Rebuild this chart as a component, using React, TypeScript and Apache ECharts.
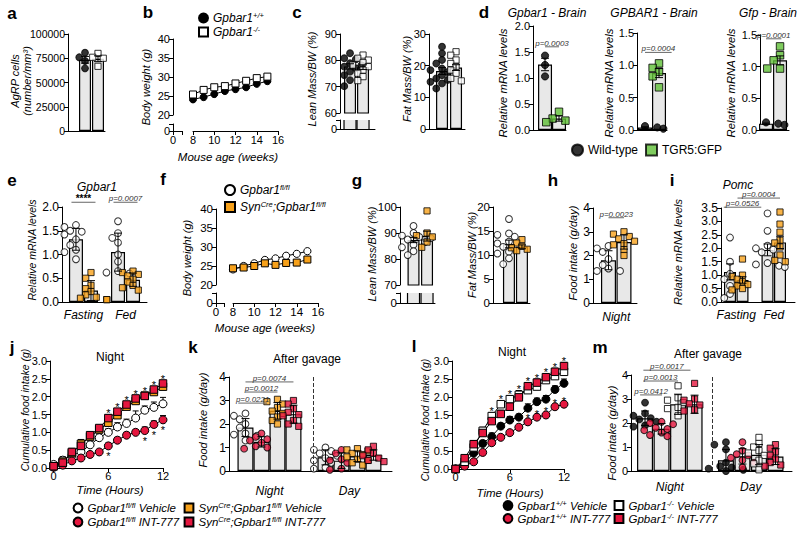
import React, { useEffect, useRef } from "react";
import * as echarts from "echarts";

const FONT = "'Liberation Sans', Arial, Helvetica, sans-serif";
const INK = "#000";
const BAR_FILL = "#e8e8e8";
const ORANGE = "#f7a11a";
const RED = "#e5173f";
const GREEN = "#5fbf36";

// ===== a: AgRP cells =====
const aMeans = [73400, 74500];
const aErrs = [3500, 3000];
const aWT = [80700, 76000, 72200, 64600];
const aKO = [80000, 76000, 75000, 66700];

// ===== b: body weight =====
const bWeeks = [8, 9, 10, 11, 12, 13, 14, 15];
const bWT = [24.1, 24.7, 25.5, 26.3, 26.8, 27.3, 28.2, 28.9];
const bKO = [25.4, 26.6, 27.3, 27.6, 28.3, 29.0, 29.7, 30.1];

// ===== c: body composition =====
const cLeanMeans = [77.7, 77.4];
const cLeanErrs = [1.0, 0.9];
const cLeanWT = [82.7, 82.0, 80.8, 80.4, 79.5, 78.9, 78.2, 77.6, 77.0, 75.7, 74.4, 72.5, 70.2];
const cLeanKO = [82.0, 80.8, 80.1, 79.1, 78.2, 77.6, 76.3, 75.1, 73.8, 72.3];
const cFatMeans = [18.3, 19.4];
const cFatErrs = [1.1, 0.9];
const cFatWT = [26.0, 23.9, 21.8, 20.7, 19.1, 18.6, 18.0, 17.0, 16.0, 15.5, 14.9, 14.4, 12.8];
const cFatKO = [24.4, 23.3, 21.8, 20.7, 19.7, 18.6, 17.6, 16.0, 15.2];

// ===== d: brain mRNA =====
const dGpbar1Means = [1.26, 0.22];
const dGpbar1Errs = [0.12, 0.05];
const dGpbar1WT = [1.43, 1.25, 1.03];
const dGpbar1GFP = [0.35, 0.22, 0.18, 0.15];
const dGPBAR1Means = [0.04, 0.88];
const dGPBAR1Errs = [0.01, 0.07];
const dGPBAR1WT = [0.02, 0.06, 0.05, 0.04];
const dGPBAR1GFP = [1.03, 0.96, 0.9, 0.83, 0.66];
const dGfpMeans = [0.1, 1.1];
const dGfpErrs = [0.01, 0.07];
const dGfpWT = [0.08, 0.1, 0.12, 0.12];
const dGfpGFP = [1.32, 1.18, 1.1, 0.97, 0.97];
const dPvals = ["p=0.0003", "p=0.0004", "p=0.0001"];

// ===== e: Gpbar1 mRNA =====
const eCats = ["Fasting", "Fed"];
const eMeans = [1.32, 0.24, 1.05, 0.47];
const eErrs = [0.23, 0.21, 0.4, 0.14];
const eFastWT = [1.62, 1.58, 1.5, 1.48, 1.42, 1.32, 1.2, 1.1, 1.05, 0.9];
const eFastKO = [0.62, 0.5, 0.35, 0.28, 0.22, 0.15, 0.1, 0.08, 0.05, 0.05];
const eFedWT = [1.7, 1.45, 1.35, 1.25, 1.0, 0.85, 0.65, 0.62, 0.6];
const eFedKO = [0.65, 0.62, 0.58, 0.55, 0.48, 0.42, 0.35, 0.3, 0.25];
const ePvals = ["****", "p=0.0007"];

// ===== f: body weight =====
const fWeeks = [8, 9, 10, 11, 12, 13, 14, 15];
const fWT = [24.1, 25.0, 25.7, 26.6, 27.0, 27.7, 28.2, 28.9];
const fCre = [24.4, 24.6, 25.0, 25.7, 25.3, 25.8, 25.9, 26.7];

// ===== g: body composition =====
const gLeanMeans = [87.3, 88.8];
const gLeanErrs = [1.0, 1.9];
const gLeanWT = [92.7, 90, 89, 88.5, 88, 87.5, 87, 86.5, 85.5, 84.5, 83, 81.5];
const gLeanCre = [98.5, 90, 89, 88.5, 88, 86.5, 84.5];
const gFatMeans = [12.3, 11.7];
const gFatErrs = [0.8, 0.4];
const gFatWT = [17.5, 14.5, 14.2, 13.8, 12.8, 12.4, 11.7, 10.7, 10.3, 9.3, 8.1];
const gFatCre = [13.2, 12.5, 11.8, 11.5, 11.2, 10.9];

// ===== h: night food intake =====
const hCats = ["Night"];
const hMeans = [1.8, 2.57];
const hErrs = [0.4, 0.3];
const hWT = [2.4, 2.3, 2.15, 1.85, 1.6, 1.45, 1.35, 1.35];
const hCre = [3.0, 2.9, 2.8, 2.7, 2.6, 2.5, 2.45, 2.25, 2.0];
const hPvals = ["p=0.0023"];

// ===== i: Pomc =====
const iCats = ["Fasting", "Fed"];
const iMeans = [1.12, 0.82, 1.94, 2.22];
const iErrs = [0.3, 0.12, 0.22, 0.23];
const iFastWT = [2.4, 2.3, 1.5, 1.05, 0.85, 0.6, 0.3, 0.15];
const iFastKO = [1.6, 1.0, 0.95, 0.85, 0.75, 0.65, 0.6, 0.5, 0.45];
const iFedWT = [3.3, 2.65, 2.1, 2.0, 1.95, 1.85, 1.45, 1.4, 1.35, 1.3];
const iFedKO = [3.35, 2.9, 2.6, 2.3, 2.2, 2.05, 1.75, 1.55, 1.5];
const iPvals = ["p=0.0526", "p=0.0004"];

// ===== j: cumulative intake (fl/fl vs SynCre) =====
const jHours = [0, 1, 2, 3, 4, 5, 6, 7, 8, 9, 10, 11, 12];
const jWTVeh = [0.1, 0.22, 0.35, 0.45, 0.65, 0.85, 1.0, 1.15, 1.25, 1.4, 1.62, 1.7, 1.8];
const jWTVehErr = [0.05, 0.1, 0.08, 0.1, 0.08, 0.1, 0.1, 0.12, 0.12, 0.2, 0.12, 0.15, 0.18];
const jWTInt = [0.02, 0.08, 0.2, 0.28, 0.38, 0.45, 0.62, 0.78, 0.92, 1.0, 1.05, 1.22, 1.35];
const jWTIntErr = [0.02, 0.05, 0.05, 0.06, 0.06, 0.06, 0.08, 0.08, 0.08, 0.08, 0.1, 0.1, 0.12];
const jCreVeh = [0.05, 0.18, 0.42, 0.68, 0.88, 1.08, 1.27, 1.48, 1.72, 1.88, 2.03, 2.13, 2.28];
const jCreVehErr = [0.03, 0.1, 0.1, 0.12, 0.1, 0.1, 0.1, 0.1, 0.1, 0.08, 0.08, 0.08, 0.1];
const jCreInt = [0.05, 0.15, 0.45, 0.62, 0.92, 1.12, 1.4, 1.58, 1.78, 1.95, 2.02, 2.2, 2.37];
const jCreIntErr = [0.03, 0.08, 0.1, 0.1, 0.08, 0.08, 0.1, 0.08, 0.08, 0.08, 0.08, 0.08, 0.08];
const jStarsTop = [6, 7, 8, 9, 10, 11, 12];
const jStarsLow = [6, 10, 11, 12];

// ===== k: after gavage =====
const kCats = ["Night", "Day"];
const kMeans = [1.85, 1.24, 2.56, 2.42, 0.58, 0.44, 0.63, 0.68];
const kErrs = [0.38, 0.22, 0.35, 0.38, 0.32, 0.33, 0.23, 0.22];
const kNightWTVeh = [2.45, 2.35, 2.2, 2.0, 1.85, 1.6, 1.55, 1.5, 1.3];
const kNightWTInt = [1.6, 1.45, 1.35, 1.3, 1.2, 1.05, 1.0, 0.95];
const kNightCreVeh = [3.05, 2.95, 2.85, 2.7, 2.55, 2.45, 2.3, 2.15, 2.0];
const kNightCreInt = [3.0, 2.85, 2.65, 2.5, 2.4, 2.35, 2.15, 2.0, 1.9];
const kDayWTVeh = [1.0, 0.9, 0.85, 0.75, 0.65, 0.55, 0.45, 0.35, 0.15, 0.1];
const kDayWTInt = [0.9, 0.75, 0.5, 0.45, 0.35, 0.1, 0.05];
const kDayCreVeh = [0.95, 0.9, 0.85, 0.75, 0.7, 0.6, 0.5, 0.45, 0.35, 0.25];
const kDayCreInt = [1.05, 0.9, 0.75, 0.65, 0.55, 0.45, 0.4];
const kPvals = ["p=0.0221", "p=0.0012", "p=0.0074"];

// ===== l: cumulative intake (+/+ vs -/-) =====
const lHours = [0, 1, 2, 3, 4, 5, 6, 7, 8, 9, 10, 11, 12];
const lWTVeh = [0, 0.16, 0.44, 0.71, 0.9, 1.19, 1.36, 1.44, 1.69, 1.87, 1.94, 2.21, 2.38];
const lWTVehErr = [0.02, 0.05, 0.08, 0.08, 0.1, 0.08, 0.1, 0.08, 0.12, 0.1, 0.1, 0.1, 0.12];
const lWTInt = [0, 0.08, 0.2, 0.46, 0.73, 0.88, 1.01, 1.16, 1.31, 1.44, 1.5, 1.73, 1.8];
const lWTIntErr = [0.02, 0.04, 0.05, 0.05, 0.05, 0.05, 0.05, 0.05, 0.06, 0.06, 0.06, 0.06, 0.06];
const lKOVeh = [0, 0.2, 0.6, 1.06, 1.47, 1.8, 1.94, 2.06, 2.19, 2.29, 2.47, 2.58, 2.7];
const lKOVehErr = [0.02, 0.06, 0.08, 0.1, 0.1, 0.1, 0.1, 0.12, 0.12, 0.12, 0.1, 0.12, 0.12];
const lKOInt = [0, 0.3, 0.69, 1.0, 1.33, 1.53, 1.73, 1.99, 2.3, 2.4, 2.55, 2.7, 2.86];
const lKOIntErr = [0.02, 0.06, 0.1, 0.1, 0.1, 0.1, 0.12, 0.12, 0.1, 0.1, 0.1, 0.1, 0.1];
const lStarsTop = [4, 5, 6, 7, 8, 9, 10, 11, 12];
const lStarsLow = [8, 9, 10, 11, 12];

// ===== m: after gavage =====
const mCats = ["Night", "Day"];
const mMeans = [2.2, 1.76, 2.78, 2.78, 0.45, 0.61, 0.68, 0.6];
const mErrs = [0.3, 0.22, 0.42, 0.38, 0.45, 0.32, 0.42, 0.33];
const mNightWTVeh = [2.85, 2.4, 2.3, 2.2, 2.15, 2.1, 2.05, 1.9, 1.85];
const mNightWTInt = [2.05, 2.0, 1.95, 1.8, 1.75, 1.7, 1.6, 1.5, 1.45];
const mNightKOVeh = [3.55, 3.05, 2.95, 2.85, 2.65, 2.6, 2.3];
const mNightKOInt = [3.65, 3.0, 2.95, 2.8, 2.75, 2.55, 2.5];
const mDayWTVeh = [1.2, 1.1, 0.9, 0.35, 0.2, 0.15, 0.1, 0.05, 0.0];
const mDayWTInt = [1.2, 0.85, 0.7, 0.65, 0.55, 0.45, 0.35, 0.15];
const mDayKOVeh = [1.4, 1.15, 1.0, 0.85, 0.75, 0.65, 0.45, 0.3, 0.05];
const mDayKOInt = [1.1, 0.95, 0.8, 0.65, 0.5, 0.35, 0.25, 0.2];
const mPvals = ["p=0.0412", "p=0.0013", "p=0.0017"];

// legend labels (rich text with superscripts)
const LEG: Record<string, string> = {
  "b wt": "Gpbar1{s|+/+}",
  "b ko": "Gpbar1{s|-/-}",
  "f fl": "Gpbar1{s|fl/fl}",
  "f cre": "Syn{s|Cre};Gpbar1{s|fl/fl}",
  "j wt veh": "Gpbar1{s|fl/fl} Vehicle",
  "j wt int": "Gpbar1{s|fl/fl} INT-777",
  "j cre veh": "Syn{s|Cre};Gpbar1{s|fl/fl} Vehicle",
  "j cre int": "Syn{s|Cre};Gpbar1{s|fl/fl} INT-777",
  "l wt veh": "Gpbar1{s|+/+} Vehicle",
  "l wt int": "Gpbar1{s|+/+} INT-777",
  "l ko veh": "Gpbar1{s|-/-} Vehicle",
  "l ko int": "Gpbar1{s|-/-} INT-777",
};

// ---------------- helpers ----------------
const LINE = { color: INK, width: 1 };
type Sym = { symbol: string; fill: string; size: number };
const SYM: Record<string, Sym> = {
  blackDot: { symbol: "circle", fill: "#000", size: 6.8 },
  whiteDot: { symbol: "circle", fill: "#fff", size: 6.8 },
  whiteSq: { symbol: "rect", fill: "#fff", size: 6.2 },
  greenSq: { symbol: "rect", fill: GREEN, size: 7.5 },
  orangeSq: { symbol: "rect", fill: ORANGE, size: 6.2 },
  redDot: { symbol: "circle", fill: RED, size: 6.8 },
  redSq: { symbol: "rect", fill: RED, size: 6.2 },
};
const big = (s: Sym, size: number): Sym => ({ ...s, size });

function nearest(arr: number[], v: number) {
  let bi = 0;
  arr.forEach((a, i) => {
    if (Math.abs(a - v) < Math.abs(arr[bi] - v)) bi = i;
  });
  return bi;
}

// horizontal spreading of dots so they don't overlap (layout only)
function swarm(vals: number[], pxPerY: number, pxPerX: number, size: number): number[] {
  const idx = vals.map((_, i) => i).sort((a, b) => vals[b] - vals[a]);
  const placed: [number, number][] = [];
  const out: number[] = new Array(vals.length).fill(0);
  const step = size * 0.85;
  const minD = size * 0.95;
  const cands = [0, -1, 1, -2, 2, -3, 3];
  for (const i of idx) {
    const y = vals[i] * pxPerY;
    let cx = cands[cands.length - 1] * step;
    for (const k of cands) {
      const c = k * step;
      if (placed.every(([px, py]) => Math.hypot(px - c, py - y) >= minD)) {
        cx = c;
        break;
      }
    }
    placed.push([cx, y]);
    out[i] = cx / pxPerX;
  }
  return out;
}

function yAx(min: number, max: number, interval: number, fs: number, fmt?: (v: number) => string, offset = 0) {
  return {
    type: "value",
    min,
    max,
    interval,
    offset,
    axisLine: { show: true, onZero: false, lineStyle: LINE },
    axisTick: { show: true, length: 4, lineStyle: LINE },
    splitLine: { show: false },
    axisLabel: { color: INK, fontFamily: FONT, fontSize: fs, margin: 3, formatter: fmt || ((v: number) => String(v)) },
  };
}
function stubAx(fs: number) {
  return {
    type: "value",
    min: 0,
    max: 1,
    axisLine: { show: true, onZero: false, lineStyle: LINE },
    axisTick: { show: true, length: 4, lineStyle: LINE, customValues: [0, 1] },
    splitLine: { show: false },
    axisLabel: { color: INK, fontFamily: FONT, fontSize: fs, margin: 3, customValues: [0], formatter: () => "0" },
  };
}
function barX(min: number, max: number, cats: any, show: boolean) {
  return {
    type: "value",
    min,
    max,
    show,
    axisLine: { show: true, onZero: false, lineStyle: LINE },
    axisTick: { show: false },
    splitLine: { show: false },
    axisLabel: cats
      ? {
          show: true,
          customValues: cats.at,
          formatter: (v: number) => cats.names[nearest(cats.at, v)],
          color: INK,
          fontFamily: FONT,
          fontSize: cats.fs,
          fontStyle: "italic",
          margin: cats.margin,
        }
      : { show: false },
  };
}

function buildOption() {
  const grids: any[] = [];
  const xAxes: any[] = [];
  const yAxes: any[] = [];
  const series: any[] = [];
  const G: any[] = [];

  const addGrid = (l: number, t: number, w: number, h: number, xa: any, ya: any) => {
    const gi = grids.length;
    grids.push({ left: l, top: t, width: w, height: h, containLabel: false });
    xAxes.push({ ...xa, gridIndex: gi });
    yAxes.push({ ...ya, gridIndex: gi });
    return gi;
  };

  const errSeries = (gi: number, data: number[][], dir: string, cap: number, floor: number, z = 5) => ({
    type: "custom",
    xAxisIndex: gi,
    yAxisIndex: gi,
    silent: true,
    z,
    data,
    encode: { x: 0, y: 1 },
    renderItem: (_p: any, api: any) => {
      const x = api.value(0);
      const m = api.value(1);
      const e = api.value(2);
      const top = api.coord([x, m + e]);
      const bot = api.coord([x, dir === "both" ? Math.max(m - e, floor) : m]);
      const st = { stroke: INK, lineWidth: 1 };
      const ch: any[] = [
        { type: "line", shape: { x1: top[0], y1: top[1], x2: bot[0], y2: bot[1] }, style: st },
        { type: "line", shape: { x1: top[0] - cap, y1: top[1], x2: top[0] + cap, y2: top[1] }, style: st },
      ];
      if (dir === "both")
        ch.push({ type: "line", shape: { x1: bot[0] - cap, y1: bot[1], x2: bot[0] + cap, y2: bot[1] }, style: st });
      return { type: "group", children: ch };
    },
  });

  const sigSeries = (gi: number, sigs: any[]) => ({
    type: "custom",
    xAxisIndex: gi,
    yAxisIndex: gi,
    silent: true,
    z: 6,
    data: sigs.map((s) => [s.x1, s.y, s.x2]),
    encode: { x: 0, y: 1 },
    renderItem: (p: any, api: any) => {
      const s = sigs[p.dataIndex];
      const a = api.coord([s.x1, s.y]);
      const b = api.coord([s.x2, s.y]);
      return {
        type: "group",
        children: [
          { type: "line", shape: { x1: a[0], y1: a[1], x2: b[0], y2: b[1] }, style: { stroke: "#666", lineWidth: 1 } },
          {
            type: "text",
            x: (a[0] + b[0]) / 2,
            y: a[1] + (s.bold ? 1 : 0.5),
            style: {
              text: s.text,
              fill: s.bold ? INK : "#333",
              fontSize: s.bold ? 10 : 8,
              fontWeight: s.bold ? "bold" : "normal",
              fontStyle: s.bold ? "normal" : "italic",
              fontFamily: FONT,
              align: "center",
              verticalAlign: "bottom",
              textAlign: "center",
              textVerticalAlign: "bottom",
            },
          },
        ],
      };
    },
  });

  const starSeries = (gi: number, pts: number[][], above: boolean) => ({
    type: "custom",
    xAxisIndex: gi,
    yAxisIndex: gi,
    silent: true,
    z: 6,
    data: pts,
    encode: { x: 0, y: 1 },
    renderItem: (_p: any, api: any) => {
      const c = api.coord([api.value(0), api.value(1)]);
      return {
        type: "text",
        x: c[0],
        y: above ? c[1] + 4 : c[1] + 5,
        style: {
          text: "*",
          fill: INK,
          fontSize: 11,
          fontFamily: FONT,
          align: "center",
          verticalAlign: above ? "bottom" : "top",
          textAlign: "center",
          textVerticalAlign: above ? "bottom" : "top",
        },
      };
    },
  });

  const barStyle = { color: BAR_FILL, borderColor: INK, borderWidth: 1.2 };

  const addBarPanel = (o: any) => {
    const [L, T, W, H] = o.grid;
    const gi = addGrid(L, T, W, H, barX(o.x[0], o.x[1], o.cats, !o.stub), yAx(o.y[0], o.y[1], o.y[2], o.fs, o.yFmt));
    const bar: any = {
      type: "bar",
      xAxisIndex: gi,
      yAxisIndex: gi,
      data: o.groups.map((g: any) => [g.x, g.mean]),
      barWidth: o.barW,
      clip: true,
      silent: true,
      z: 2,
      itemStyle: barStyle,
    };
    if (o.dash != null) {
      bar.markLine = {
        silent: true,
        symbol: ["none", "none"],
        label: { show: false },
        lineStyle: { type: "dashed", color: "#333", width: 1 },
        data: [{ xAxis: o.dash }],
      };
    }
    series.push(bar);
    const pxX = W / (o.x[1] - o.x[0]);
    const pxY = H / (o.y[1] - o.y[0]);
    o.groups.forEach((g: any) => {
      const jit = swarm(g.pts, pxY, pxX, g.sym.size);
      series.push({
        type: "scatter",
        name: g.name,
        xAxisIndex: gi,
        yAxisIndex: gi,
        silent: true,
        z: 4,
        data: g.pts.map((v: number, i: number) => [g.x + jit[i], v]),
        symbol: g.sym.symbol,
        symbolSize: g.sym.size,
        itemStyle: { color: g.sym.fill, borderColor: INK, borderWidth: 1 },
      });
    });
    series.push(errSeries(gi, o.groups.map((g: any) => [g.x, g.mean, g.err]), "both", o.cap ?? 4, o.y[0]));
    if (o.sig) series.push(sigSeries(gi, o.sig));
    if (o.stub) {
      const [sT, sH] = o.stub;
      const si = addGrid(L, sT, W, sH, barX(o.x[0], o.x[1], null, true), stubAx(o.fs));
      const hw = o.barW / 2;
      // open-topped bar stubs below the axis break
      series.push({
        type: "custom",
        xAxisIndex: si,
        yAxisIndex: si,
        silent: true,
        z: 2,
        data: o.groups.map((g: any) => [g.x, 1]),
        encode: { x: 0, y: 1 },
        renderItem: (_p: any, api: any) => {
          const x = api.value(0);
          const top = api.coord([x, api.value(1)]);
          const bot = api.coord([x, 0]);
          const st = { stroke: INK, lineWidth: 1.2 };
          return {
            type: "group",
            children: [
              { type: "rect", shape: { x: top[0] - hw, y: top[1], width: o.barW, height: bot[1] - top[1] }, style: { fill: BAR_FILL } },
              { type: "line", shape: { x1: top[0] - hw, y1: top[1], x2: top[0] - hw, y2: bot[1] }, style: st },
              { type: "line", shape: { x1: top[0] + hw, y1: top[1], x2: top[0] + hw, y2: bot[1] }, style: st },
            ],
          };
        },
      });
    }
  };

  const addGrowthPanel = (o: any) => {
    const [L, T, W, H] = o.main;
    const gi = addGrid(
      L,
      T,
      W,
      H,
      {
        type: "value",
        min: 8,
        max: 16,
        interval: 2,
        offset: o.xOff,
        axisLine: { show: true, onZero: false, lineStyle: LINE },
        axisTick: { show: true, length: 4, lineStyle: LINE },
        splitLine: { show: false },
        axisLabel: { color: INK, fontFamily: FONT, fontSize: o.fs, margin: 3 },
      },
      yAx(20, 40, 5, o.fs, undefined, o.yOff)
    );
    o.groups.forEach((g: any) => {
      series.push({
        type: "line",
        name: g.name,
        xAxisIndex: gi,
        yAxisIndex: gi,
        silent: true,
        z: 3,
        data: o.weeks.map((w: number, i: number) => [w, g.vals[i]]),
        symbol: g.sym.symbol,
        symbolSize: g.sym.size,
        itemStyle: { color: g.sym.fill, borderColor: INK, borderWidth: 1 },
        lineStyle: { color: INK, width: 1 },
      });
    });
    const [sL, sT, sW, sH] = o.stub;
    addGrid(sL, sT, sW, sH, stubAx(o.fs), stubAx(o.fs));
  };

  const addTimePanel = (o: any) => {
    const [L, T, W, H] = o.grid;
    const ticks = [0, 6, 12];
    const gi = addGrid(
      L,
      T,
      W,
      H,
      {
        type: "value",
        min: -0.4,
        max: 12,
        axisLine: { show: true, onZero: false, lineStyle: LINE },
        axisTick: { show: true, length: 4, lineStyle: LINE, customValues: ticks },
        splitLine: { show: false },
        axisLabel: { color: INK, fontFamily: FONT, fontSize: o.fs, margin: 2, customValues: ticks, formatter: (v: number) => String(v) },
      },
      yAx(0, 3, 0.5, o.fs, (v: number) => v.toFixed(1))
    );
    o.groups.forEach((g: any) => {
      series.push(errSeries(gi, o.hours.map((h: number, i: number) => [h, g.vals[i], g.errs[i]]), "up", 3, 0, 2));
      series.push({
        type: "line",
        name: g.name,
        xAxisIndex: gi,
        yAxisIndex: gi,
        silent: true,
        z: 3,
        data: o.hours.map((h: number, i: number) => [h, g.vals[i]]),
        symbol: g.sym.symbol,
        symbolSize: g.sym.size,
        itemStyle: { color: g.sym.fill, borderColor: INK, borderWidth: 1 },
        lineStyle: { color: INK, width: 1 },
      });
    });
    series.push(starSeries(gi, o.starsTop, true));
    series.push(starSeries(gi, o.starsLow, o.lowAbove));
  };

  const txt = (text: string, x: number, y: number, o: any = {}) => {
    G.push({
      type: "text",
      x,
      y,
      rotation: o.rot ? Math.PI / 2 : 0,
      silent: true,
      z: 100,
      style: {
        text,
        fill: INK,
        fontFamily: FONT,
        fontSize: o.fs ?? 12,
        fontStyle: o.it ? "italic" : "normal",
        fontWeight: o.b ? "bold" : "normal",
        lineHeight: o.lh,
        align: "center",
        verticalAlign: "middle",
        textAlign: "center",
        textVerticalAlign: "middle",
      },
    });
  };

  // ---------- a ----------
  addBarPanel({
    grid: [68, 34, 37, 97], x: [-1.31, 1.54], y: [0, 100000, 25000], fs: 10.5, barW: 12,
    groups: [
      { x: 0, mean: aMeans[0], err: aErrs[0], pts: aWT, sym: SYM.blackDot },
      { x: 1, mean: aMeans[1], err: aErrs[1], pts: aKO, sym: SYM.whiteSq },
    ],
  });
  // ---------- b ----------
  addGrowthPanel({
    main: [193, 39, 85, 76], yOff: 20, xOff: 16, stub: [173, 124, 9, 7], fs: 11, weeks: bWeeks,
    groups: [
      { name: "b wt", vals: bWT, sym: big(SYM.blackDot, 7) },
      { name: "b ko", vals: bKO, sym: big(SYM.whiteSq, 7) },
    ],
  });
  // ---------- c ----------
  addBarPanel({
    grid: [340, 34, 35, 79], x: [-0.77, 1.92], y: [60, 90, 10], fs: 11, barW: 12, stub: [120, 9],
    groups: [
      { x: 0, mean: cLeanMeans[0], err: cLeanErrs[0], pts: cLeanWT, sym: SYM.blackDot },
      { x: 1, mean: cLeanMeans[1], err: cLeanErrs[1], pts: cLeanKO, sym: SYM.whiteSq },
    ],
  });
  addBarPanel({
    grid: [429, 34, 36, 95], x: [-0.93, 1.64], y: [0, 30, 10], fs: 11, barW: 12,
    groups: [
      { x: 0, mean: cFatMeans[0], err: cFatErrs[0], pts: cFatWT, sym: SYM.blackDot },
      { x: 1, mean: cFatMeans[1], err: cFatErrs[1], pts: cFatKO, sym: SYM.whiteSq },
    ],
  });
  // ---------- d ----------
  const f1 = (v: number) => v.toFixed(1);
  addBarPanel({
    grid: [533, 26, 33, 104], x: [-0.86, 1.5], y: [0, 2, 0.5], fs: 11, yFmt: f1, barW: 14,
    groups: [
      { x: 0, mean: dGpbar1Means[0], err: dGpbar1Errs[0], pts: dGpbar1WT, sym: big(SYM.blackDot, 7.2), name: "Wild-type" },
      { x: 1, mean: dGpbar1Means[1], err: dGpbar1Errs[1], pts: dGpbar1GFP, sym: SYM.greenSq, name: "TGR5:GFP" },
    ],
    sig: [{ x1: 0, x2: 1, y: 1.6, text: dPvals[0] }],
  });
  addBarPanel({
    grid: [637, 33, 30, 97], x: [-0.57, 1.57], y: [0, 1.5, 0.5], fs: 11, yFmt: f1, barW: 14,
    groups: [
      { x: 0, mean: dGPBAR1Means[0], err: dGPBAR1Errs[0], pts: dGPBAR1WT, sym: big(SYM.blackDot, 7.2), name: "Wild-type" },
      { x: 1, mean: dGPBAR1Means[1], err: dGPBAR1Errs[1], pts: dGPBAR1GFP, sym: SYM.greenSq, name: "TGR5:GFP" },
    ],
    sig: [{ x1: 0, x2: 1.9, y: 1.2, text: dPvals[1] }],
  });
  addBarPanel({
    grid: [760, 35, 29, 95], x: [-0.43, 1.64], y: [0, 1.5, 0.5], fs: 11, yFmt: f1, barW: 14,
    groups: [
      { x: 0, mean: dGfpMeans[0], err: dGfpErrs[0], pts: dGfpWT, sym: big(SYM.blackDot, 7.2), name: "Wild-type" },
      { x: 1, mean: dGfpMeans[1], err: dGfpErrs[1], pts: dGfpGFP, sym: SYM.greenSq, name: "TGR5:GFP" },
    ],
    sig: [{ x1: 0, x2: 1.1, y: 1.44, text: dPvals[2] }],
  });
  // ---------- e ----------
  addBarPanel({
    grid: [62, 207, 85, 95], x: [-0.93, 4.73], y: [0, 2, 0.5], fs: 12, yFmt: f1, barW: 14,
    cats: { at: [0.5, 3.3], names: eCats, fs: 12, margin: 7 },
    groups: [
      { x: 0, mean: eMeans[0], err: eErrs[0], pts: eFastWT, sym: SYM.whiteDot },
      { x: 1, mean: eMeans[1], err: eErrs[1], pts: eFastKO, sym: SYM.orangeSq },
      { x: 2.8, mean: eMeans[2], err: eErrs[2], pts: eFedWT, sym: SYM.whiteDot },
      { x: 3.8, mean: eMeans[3], err: eErrs[3], pts: eFedKO, sym: SYM.orangeSq },
    ],
    sig: [
      { x1: -0.3, x2: 1.3, y: 2.1, text: ePvals[0], bold: true },
      { x1: 2.5, x2: 4.1, y: 2.1, text: ePvals[1] },
    ],
  });
  // ---------- f ----------
  addGrowthPanel({
    main: [233, 209, 85, 76], yOff: 17, xOff: 18, stub: [216, 293, 8, 10], fs: 11.5, weeks: fWeeks,
    groups: [
      { name: "f fl", vals: fWT, sym: big(SYM.whiteDot, 7.2) },
      { name: "f cre", vals: fCre, sym: big(SYM.orangeSq, 7) },
    ],
  });
  // ---------- g ----------
  addBarPanel({
    grid: [400, 207, 35, 78], x: [-1, 1.59], y: [70, 100, 10], fs: 11.5, barW: 12, stub: [293, 10],
    groups: [
      { x: 0, mean: gLeanMeans[0], err: gLeanErrs[0], pts: gLeanWT, sym: SYM.whiteDot },
      { x: 1, mean: gLeanMeans[1], err: gLeanErrs[1], pts: gLeanCre, sym: SYM.orangeSq },
    ],
  });
  addBarPanel({
    grid: [493, 207, 37, 96], x: [-1.23, 1.62], y: [0, 20, 5], fs: 11.5, barW: 12,
    groups: [
      { x: 0, mean: gFatMeans[0], err: gFatErrs[0], pts: gFatWT, sym: SYM.whiteDot },
      { x: 1, mean: gFatMeans[1], err: gFatErrs[1], pts: gFatCre, sym: SYM.orangeSq },
    ],
  });
  // ---------- h ----------
  addBarPanel({
    grid: [593, 208, 44, 95], x: [-1, 1.84], y: [0, 4, 1], fs: 12, barW: 15,
    cats: { at: [0.5], names: hCats, fs: 12, margin: 8 },
    groups: [
      { x: 0, mean: hMeans[0], err: hErrs[0], pts: hWT, sym: SYM.whiteDot },
      { x: 1, mean: hMeans[1], err: hErrs[1], pts: hCre, sym: SYM.orangeSq },
    ],
    sig: [{ x1: 0, x2: 1, y: 3.59, text: hPvals[0] }],
  });
  // ---------- i ----------
  addBarPanel({
    grid: [721, 208, 74, 94], x: [-0.72, 5.2], y: [0, 3.5, 0.5], fs: 12, yFmt: f1, barW: 12,
    cats: { at: [0.5, 3.5], names: iCats, fs: 12, margin: 7 },
    groups: [
      { x: 0, mean: iMeans[0], err: iErrs[0], pts: iFastWT, sym: SYM.whiteDot },
      { x: 1, mean: iMeans[1], err: iErrs[1], pts: iFastKO, sym: SYM.orangeSq },
      { x: 3, mean: iMeans[2], err: iErrs[2], pts: iFedWT, sym: SYM.whiteDot },
      { x: 4, mean: iMeans[3], err: iErrs[3], pts: iFedKO, sym: SYM.orangeSq },
    ],
    sig: [
      { x1: -0.5, x2: 2.5, y: 3.53, text: iPvals[0] },
      { x1: 0.6, x2: 4.0, y: 3.87, text: iPvals[1] },
    ],
  });
  // ---------- j ----------
  const jTop = jStarsTop.map((t) => {
    const i = jHours.indexOf(t);
    return [t, Math.max(jCreVeh[i] + jCreVehErr[i], jCreInt[i] + jCreIntErr[i])];
  });
  const jLow = jStarsLow.map((t) => [t, jWTInt[jHours.indexOf(t)]]);
  addTimePanel({
    grid: [50, 361, 113, 107], fs: 11, hours: jHours, starsTop: jTop, starsLow: jLow, lowAbove: false,
    groups: [
      { name: "j wt veh", vals: jWTVeh, errs: jWTVehErr, sym: big(SYM.whiteDot, 8) },
      { name: "j wt int", vals: jWTInt, errs: jWTIntErr, sym: big(SYM.redDot, 8) },
      { name: "j cre veh", vals: jCreVeh, errs: jCreVehErr, sym: big(SYM.orangeSq, 7.5) },
      { name: "j cre int", vals: jCreInt, errs: jCreIntErr, sym: big(SYM.redSq, 7.5) },
    ],
  });
  // ---------- k ----------
  const kSyms = [SYM.whiteDot, SYM.redDot, SYM.orangeSq, SYM.redSq];
  const kPts = [kNightWTVeh, kNightWTInt, kNightCreVeh, kNightCreInt, kDayWTVeh, kDayWTInt, kDayCreVeh, kDayCreInt];
  const kX = [0, 1, 2, 3, 5, 6, 7, 8];
  addBarPanel({
    grid: [229, 377, 163, 94], x: [-1.03, 9.16], y: [0, 4, 1], fs: 12, barW: 16, dash: 4.25,
    cats: { at: [1.5, 6.5], names: kCats, fs: 12, margin: 14 },
    groups: kPts.map((pts, i) => ({ x: kX[i], mean: kMeans[i], err: kErrs[i], pts, sym: kSyms[i % 4] })),
    sig: [
      { x1: -0.45, x2: 1.35, y: 2.89, text: kPvals[0] },
      { x1: 0, x2: 2, y: 3.36, text: kPvals[1] },
      { x1: 0, x2: 3, y: 3.79, text: kPvals[2] },
    ],
  });
  // ---------- l ----------
  const lTop = lStarsTop.map((t) => {
    const i = lHours.indexOf(t);
    return [t, Math.max(lKOVeh[i] + lKOVehErr[i], lKOInt[i] + lKOIntErr[i])];
  });
  const lLow = lStarsLow.map((t) => {
    const i = lHours.indexOf(t);
    return [t, lWTInt[i] + lWTIntErr[i]];
  });
  addTimePanel({
    grid: [452, 361, 112, 108], fs: 11, hours: lHours, starsTop: lTop, starsLow: lLow, lowAbove: true,
    groups: [
      { name: "l wt veh", vals: lWTVeh, errs: lWTVehErr, sym: big(SYM.blackDot, 8) },
      { name: "l wt int", vals: lWTInt, errs: lWTIntErr, sym: big(SYM.redDot, 8) },
      { name: "l ko veh", vals: lKOVeh, errs: lKOVehErr, sym: big(SYM.whiteSq, 7.5) },
      { name: "l ko int", vals: lKOInt, errs: lKOIntErr, sym: big(SYM.redSq, 7.5) },
    ],
  });
  // ---------- m ----------
  const mSyms = [SYM.blackDot, SYM.redDot, SYM.whiteSq, SYM.redSq];
  const mPts = [mNightWTVeh, mNightWTInt, mNightKOVeh, mNightKOInt, mDayWTVeh, mDayWTInt, mDayKOVeh, mDayKOInt];
  const mX = [0, 1, 2, 3, 4.9, 5.9, 6.9, 7.9];
  addBarPanel({
    grid: [631, 375, 161, 96], x: [-0.85, 8.9], y: [0, 4, 1], fs: 11, barW: 16, dash: 4.05,
    cats: { at: [1.5, 6.4], names: mCats, fs: 12, margin: 10 },
    groups: mPts.map((pts, i) => ({ x: mX[i], mean: mMeans[i], err: mErrs[i], pts, sym: mSyms[i % 4] })),
    sig: [
      { x1: -0.3, x2: 1.03, y: 3.17, text: mPvals[0] },
      { x1: -0.1, x2: 2.0, y: 3.75, text: mPvals[1] },
      { x1: -0.1, x2: 2.75, y: 4.2, text: mPvals[2] },
    ],
  });

  // ---------- texts ----------
  const letters: [string, number, number][] = [
    ["a", 12, 13], ["b", 148, 12], ["c", 297, 12], ["d", 484, 12],
    ["e", 12, 180], ["f", 163, 179], ["g", 357, 180], ["h", 553, 180], ["i", 672, 180],
    ["j", 12, 347], ["k", 193, 347], ["l", 414, 346], ["m", 600, 347],
  ];
  letters.forEach(([t, x, y]) => txt(t, x, y, { fs: 17, b: true }));

  txt("Gpbar1 - Brain", 547, 13, { it: true, fs: 12 });
  txt("GPBAR1 - Brain", 654, 13, { it: true, fs: 12 });
  txt("Gfp - Brain", 768, 13, { it: true, fs: 12 });
  txt("Gpbar1", 97, 187, { it: true, fs: 12 });
  txt("Pomc", 738, 185, { it: true, fs: 12 });
  txt("Night", 110, 357, { fs: 12 });
  txt("After gavage", 307, 359, { fs: 12 });
  txt("Night", 512, 352, { fs: 12 });
  txt("After gavage", 708, 354, { fs: 12 });

  const yt = (t: string, x: number, y: number, fs = 11, lh?: number) => txt(t, x, y, { rot: true, it: true, fs, lh });
  yt("AgRP cells\n(number/mm³)", 21, 81, 11, 12);
  yt("Body weight (g)", 146, 87);
  yt("Lean Mass/BW (%)", 312, 79);
  yt("Fat Mass/BW (%)", 407, 79);
  yt("Relative mRNA levels", 503, 83, 11.3);
  yt("Relative mRNA levels", 609, 83, 11.3);
  yt("Relative mRNA levels", 731, 83, 11.3);
  yt("Relative mRNA levels", 32, 250, 10.5);
  yt("Body weight (g)", 187, 258);
  yt("Lean Mass/BW (%)", 372, 254);
  yt("Fat Mass/BW (%)", 472, 255);
  yt("Food intake (g/day)", 573, 253);
  yt("Relative mRNA levels", 678, 252);
  yt("Cumulative food intake (g)", 25, 410, 10.5);
  yt("Food intake (g/day)", 203, 420);
  yt("Cumulative food intake (g)", 425, 420, 10.5);
  yt("Food intake (g/day)", 612, 433);

  txt("Mouse age (weeks)", 228, 157, { it: true, fs: 11.5 });
  txt("Mouse age (weeks)", 265, 328, { it: true, fs: 11.5 });
  txt("Time (Hours)", 110, 490, { it: true, fs: 11.5 });
  txt("Time (Hours)", 510, 493, { it: true, fs: 11.5 });

  // ---------- legends ----------
  const rich = {
    s: { fontSize: 7.5, fontStyle: "italic", fontFamily: FONT, color: INK, verticalAlign: "top", lineHeight: 8 },
  };
  const mkLegend = (left: number, top: number, names: string[], o: any) => ({
    left,
    top,
    orient: o.orient ?? "vertical",
    padding: 0,
    itemGap: o.gap,
    itemWidth: o.iw,
    itemHeight: o.ih,
    selectedMode: false,
    data: names.map((n, i) => (o.icons ? { name: n, icon: o.icons[i] } : n)),
    formatter: (n: string) => LEG[n] ?? n,
    textStyle: {
      color: INK,
      fontFamily: FONT,
      fontSize: o.fs ?? 12,
      fontStyle: o.it === false ? "normal" : "italic",
      lineHeight: o.lh ?? 14,
      rich,
    },
  });
  const legends = [
    mkLegend(198, 11, ["b wt", "b ko"], { gap: 0, iw: 9, ih: 9, icons: ["circle", "rect"] }),
    mkLegend(571, 143, ["Wild-type", "TGR5:GFP"], { orient: "horizontal", gap: 7, iw: 11, ih: 11, it: false }),
    mkLegend(224, 183, ["f fl", "f cre"], { gap: 3, iw: 10, ih: 10, icons: ["circle", "rect"] }),
    mkLegend(72.5, 501, ["j wt veh", "j wt int"], { gap: 0, iw: 9, ih: 11, fs: 11.5 }),
    mkLegend(183.5, 501, ["j cre veh", "j cre int"], { gap: 0, iw: 9, ih: 11, fs: 11.5 }),
    mkLegend(502.5, 499, ["l wt veh", "l wt int"], { gap: 0, iw: 9, ih: 11, lh: 13, fs: 11.5 }),
    mkLegend(613.5, 499, ["l ko veh", "l ko int"], { gap: 0, iw: 9, ih: 11, lh: 13, fs: 11.5 }),
  ];

  return {
    animation: false,
    backgroundColor: "#fff",
    textStyle: { fontFamily: FONT },
    grid: grids,
    xAxis: xAxes,
    yAxis: yAxes,
    series,
    legend: legends,
    graphic: { elements: G },
  };
}

export default function App() {
  const ref = useRef<HTMLDivElement>(null);
  useEffect(() => {
    if (!ref.current) return;
    const chart = echarts.init(ref.current, undefined, { renderer: "svg" });
    chart.setOption(buildOption() as any);
    return () => chart.dispose();
  }, []);
  return (
    <div
      ref={ref}
      style={{ position: "fixed", left: 0, top: 0, width: 800, height: 533, background: "#fff" }}
    />
  );
}
